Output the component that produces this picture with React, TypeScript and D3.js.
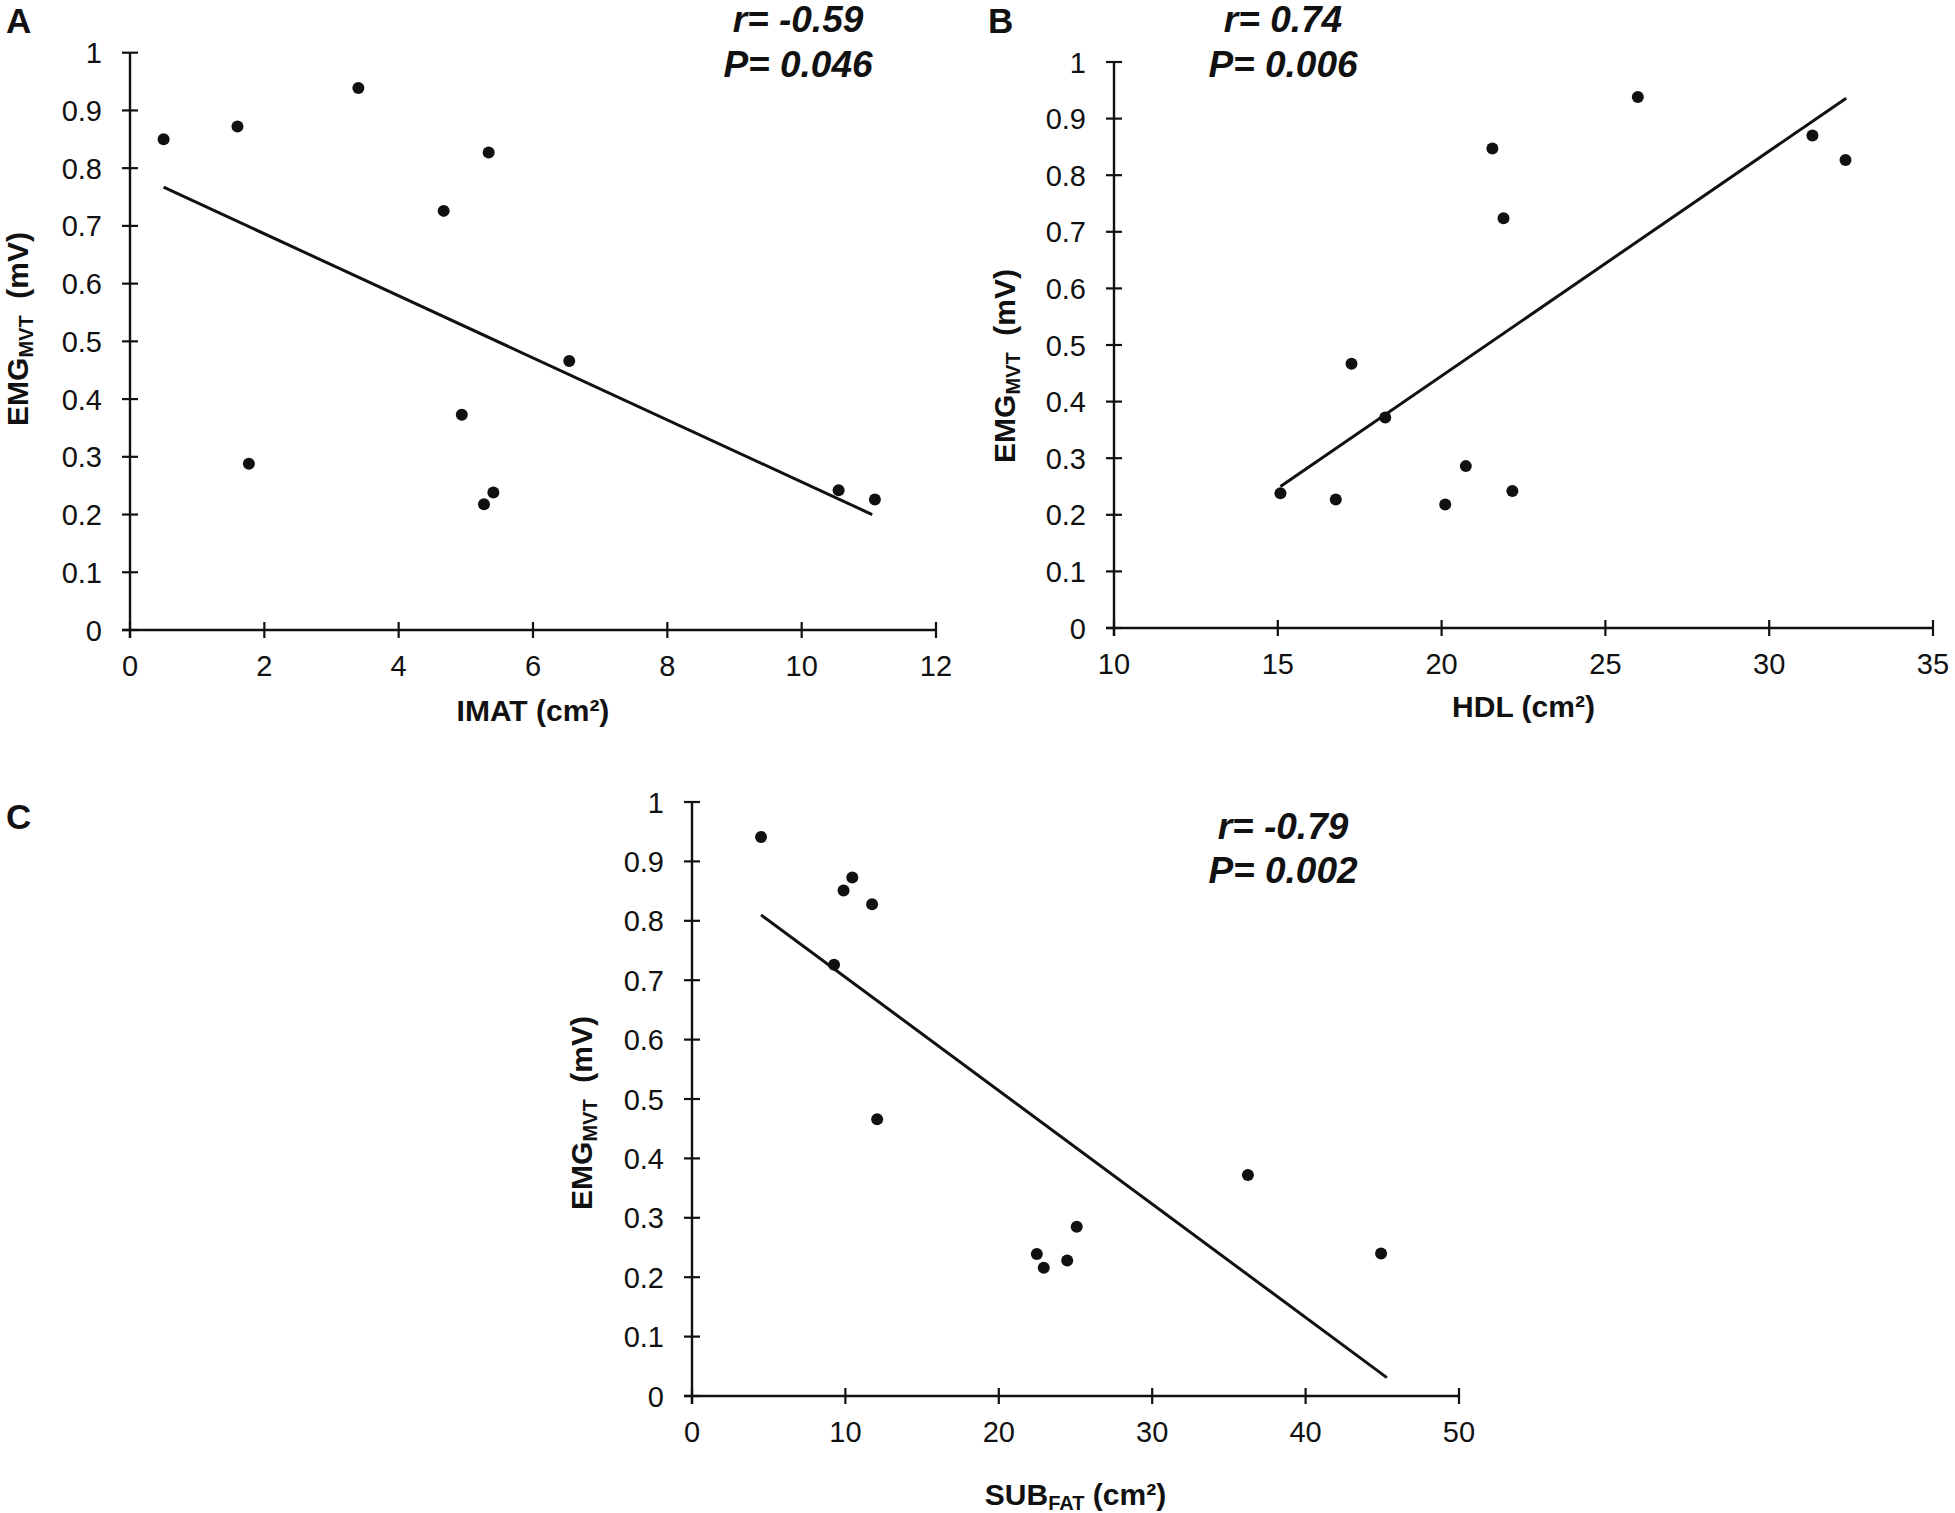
import React from "react";
import * as d3 from "d3";

// ---------- data ----------
const yTicks = [0, 0.1, 0.2, 0.3, 0.4, 0.5, 0.6, 0.7, 0.8, 0.9, 1];

const imatTicks = [0, 2, 4, 6, 8, 10, 12];
const imatX = [0.5, 1.6, 3.4, 1.77, 4.67, 5.34, 4.94, 5.27, 5.41, 6.54, 10.55, 11.09];
const imatY = [0.85, 0.872, 0.939, 0.288, 0.726, 0.827, 0.373, 0.218, 0.238, 0.466, 0.242, 0.226];
const imatTrendX = [0.5, 11.05];
const imatTrendY = [0.767, 0.2];

const hdlTicks = [10, 15, 20, 25, 30, 35];
const hdlX = [25.99, 31.32, 32.33, 21.55, 21.89, 17.25, 18.28, 20.74, 22.16, 15.08, 16.77, 20.11];
const hdlY = [0.938, 0.87, 0.827, 0.847, 0.724, 0.467, 0.372, 0.286, 0.242, 0.238, 0.227, 0.218];
const hdlTrendX = [15.08, 32.35];
const hdlTrendY = [0.25, 0.936];

const subTicks = [0, 10, 20, 30, 40, 50];
const subX = [4.5, 10.45, 9.88, 11.74, 9.26, 12.07, 36.24, 25.08, 22.48, 22.93, 24.46, 44.92];
const subY = [0.941, 0.873, 0.851, 0.828, 0.726, 0.466, 0.372, 0.285, 0.239, 0.216, 0.228, 0.24];
const subTrendX = [4.5, 45.3];
const subTrendY = [0.81, 0.031];

// ---------- style ----------
const FONT = "'Liberation Sans', Arial, Helvetica, sans-serif";
const INK = "#111";

type PanelProps = {
  letter: string;
  letterPos: [number, number];
  xr: [number, number];
  yr: [number, number];
  xdom: [number, number];
  xTicks: number[];
  xs: number[];
  ys: number[];
  tx: number[];
  ty: number[];
  stats: [string, string];
  statsPos: [number, number, number];
  yTitlePos: [number, number];
  xTitle: React.ReactNode;
  xTitleY: number;
};

function HText(props: {
  x: number;
  y: number;
  anchor?: string;
  size: number;
  weight?: string;
  italic?: boolean;
  children: React.ReactNode;
}) {
  const { x, y, anchor = "middle", size, weight = "normal", italic = false, children } = props;
  return (
    <text
      x={x}
      y={y}
      textAnchor={anchor}
      fontSize={size}
      fontWeight={weight}
      fontStyle={italic ? "italic" : "normal"}
      fontFamily={FONT}
      fill={INK}
      style={{ whiteSpace: "pre" }}
    >
      {children}
    </text>
  );
}

function Panel(p: PanelProps) {
  const x = d3.scaleLinear().domain(p.xdom).range(p.xr);
  const y = d3.scaleLinear().domain([0, 1]).range(p.yr);
  const line = d3
    .line<[number, number]>()
    .x((d) => x(d[0]))
    .y((d) => y(d[1]));
  const trend: [number, number][] = p.tx.map((v, i) => [v, p.ty[i]]);
  const x0 = p.xr[0];
  const y0 = p.yr[0];
  const T = 8;
  return (
    <g>
      <HText x={p.letterPos[0]} y={p.letterPos[1]} anchor="start" size={35} weight="bold">
        {p.letter}
      </HText>
      {/* axes */}
      <line x1={x0} x2={x0} y1={p.yr[1]} y2={y0 + T} stroke={INK} strokeWidth={2.4} />
      <line x1={x0 - T} x2={p.xr[1]} y1={y0} y2={y0} stroke={INK} strokeWidth={2.4} />
      {yTicks.map((t) => (
        <g key={"y" + t}>
          <line x1={x0 - T} x2={x0 + T} y1={y(t)} y2={y(t)} stroke={INK} strokeWidth={2.2} />
          <HText x={x0 - 28} y={y(t) + 10.5} anchor="end" size={29}>
            {String(t)}
          </HText>
        </g>
      ))}
      {p.xTicks.map((t) => (
        <g key={"x" + t}>
          <line x1={x(t)} x2={x(t)} y1={y0 - T} y2={y0 + T} stroke={INK} strokeWidth={2.2} />
          <HText x={x(t)} y={y0 + 46} size={29}>
            {String(t)}
          </HText>
        </g>
      ))}
      {/* trend line */}
      <path d={line(trend) || ""} fill="none" stroke={INK} strokeWidth={3} />
      {/* points */}
      {p.xs.map((v, i) => (
        <circle key={i} cx={x(v)} cy={y(p.ys[i])} r={6} fill={INK} />
      ))}
      {/* stats */}
      <HText x={p.statsPos[0]} y={p.statsPos[1]} size={37} weight="bold" italic>
        {p.stats[0]}
      </HText>
      <HText x={p.statsPos[0]} y={p.statsPos[2]} size={37} weight="bold" italic>
        {p.stats[1]}
      </HText>
      {/* y title */}
      <text
        transform={`translate(${p.yTitlePos[0]},${p.yTitlePos[1]}) rotate(-90)`}
        textAnchor="middle"
        fontSize={30}
        fontWeight="bold"
        fontFamily={FONT}
        fill={INK}
        style={{ whiteSpace: "pre" }}
      >
        EMG
        <tspan fontSize={20} dy={5}>
          MVT
        </tspan>
        <tspan fontSize={30} dy={-5}>
          {"  (mV)"}
        </tspan>
      </text>
      {/* x title */}
      <HText x={(p.xr[0] + p.xr[1]) / 2} y={p.xTitleY} size={30} weight="bold">
        {p.xTitle}
      </HText>
    </g>
  );
}

export default function App() {
  return (
    <svg
      width={1955}
      height={1513}
      viewBox="0 0 1955 1513"
      style={{ position: "absolute", left: 0, top: 0, background: "#fff" }}
    >
      <rect x={0} y={0} width={1955} height={1513} fill="#fff" />
      <Panel
        letter="A"
        letterPos={[6, 33]}
        xr={[130, 936]}
        yr={[630, 52.7]}
        xdom={[0, 12]}
        xTicks={imatTicks}
        xs={imatX}
        ys={imatY}
        tx={imatTrendX}
        ty={imatTrendY}
        stats={["r= -0.59", "P= 0.046"]}
        statsPos={[798, 32, 77]}
        yTitlePos={[28, 329]}
        xTitle={<>IMAT (cm²)</>}
        xTitleY={721}
      />
      <Panel
        letter="B"
        letterPos={[988, 33]}
        xr={[1114, 1933]}
        yr={[628, 62]}
        xdom={[10, 35]}
        xTicks={hdlTicks}
        xs={hdlX}
        ys={hdlY}
        tx={hdlTrendX}
        ty={hdlTrendY}
        stats={["r= 0.74", "P= 0.006"]}
        statsPos={[1283, 32, 77]}
        yTitlePos={[1015, 366]}
        xTitle={<>HDL (cm²)</>}
        xTitleY={717}
      />
      <Panel
        letter="C"
        letterPos={[6, 829]}
        xr={[692, 1459]}
        yr={[1396, 802]}
        xdom={[0, 50]}
        xTicks={subTicks}
        xs={subX}
        ys={subY}
        tx={subTrendX}
        ty={subTrendY}
        stats={["r= -0.79", "P= 0.002"]}
        statsPos={[1283, 839, 883]}
        yTitlePos={[592, 1113]}
        xTitle={
          <>
            SUB
            <tspan fontSize={20} dy={5}>
              FAT
            </tspan>
            <tspan dy={-5}> (cm²)</tspan>
          </>
        }
        xTitleY={1505}
      />
    </svg>
  );
}
